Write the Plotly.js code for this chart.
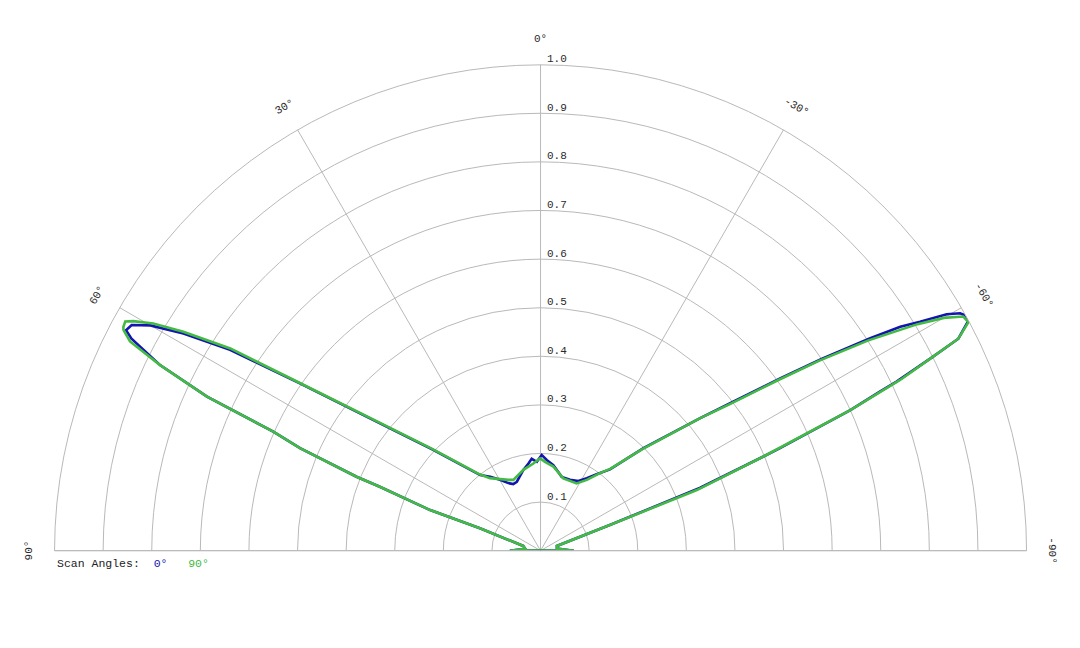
<!DOCTYPE html>
<html>
<head>
<meta charset="utf-8">
<script src="https://cdn.plot.ly/plotly-3.0.1.min.js"></script>
<style>
  html, body { margin: 0; padding: 0; background: #fff; }
  #chart { width: 1080px; height: 648px; }
</style>
</head>
<body>
<div id="chart"></div>
<script>
const W = 1080, H = 648;
const FONT = "Courier New, Liberation Mono, monospace";
const TEXT_COLOR = "#2a2a2a";
const GRID_COLOR = "#b9b9b9";

const scanNames = ["0°", "90°"];
const scanColors = ["#1414b0", "#43ba43"];

// scan angle 0°: path from -90° round the right lobe, over the top, round the left lobe to +90°
const theta0 = [-90, -83, -73.8, -69.7, -68.5, -67.1, -66.8, -65.6, -64.9, -64.6, -63.7, -63.1,
  -61.8, -61.1, -60.5, -59.8, -58.9, -58.1, -57.2, -55.7, -54.3, -52.3, -50.3, -45.1, -43.6,
  -40.5, -36.3, -32.5, -28.5, -22.6, -16.0, -8.5, -3.9, -0.7, 2.4, 5.5, 7.9, 12.0, 19.0, 22.3,
  25.5, 29.8, 34.3, 38.6, 46.8, 50.9, 55.2, 57.1, 58.7, 60.0, 61.1, 62.0, 62.6, 64.0,
  65.2, 66.0, 66.9, 68.1, 68.3, 69.8, 69.7, 74.7, 82.6, 90];
const r0 = [0.068, 0.034, 0.035, 0.152, 0.352, 0.498, 0.536, 0.700, 0.771, 0.810, 0.901, 0.964,
  0.998, 1.000, 0.992, 0.967, 0.912, 0.872, 0.807, 0.700, 0.607, 0.501, 0.427, 0.299, 0.267,
  0.220, 0.195, 0.177, 0.163, 0.158, 0.158, 0.178, 0.187, 0.197, 0.183, 0.190, 0.181, 0.170, 0.150, 0.148,
  0.154, 0.168, 0.184, 0.199, 0.303, 0.399, 0.603, 0.761, 0.860, 0.927, 0.961, 0.966, 0.948, 0.871,
  0.756, 0.602, 0.538, 0.408, 0.356, 0.242, 0.133, 0.037, 0.032, 0.063];

// scan angle 90°
const theta90 = [-90, -83, -73.8, -69.7, -68.8, -67.1, -65.6, -64.6, -63.7, -63.1, -61.9, -61.0,
  -60.0, -59.0, -57.3, -55.7, -54.3, -52.3, -50.3, -45.1, -43.6, -40.5, -37.5, -33.2, -28.2,
  -17.5, -8.7, -2.9, 0.3, 4.7, 12.0, 21.0, 24.5, 34.9, 38.6, 46.8, 50.9, 55.2, 56.9, 58.5,
  59.6, 60.6, 61.1, 61.8, 62.1, 63.0, 64.0, 65.2, 66.0, 66.9, 68.1, 68.3, 69.8, 69.7,
  74.7, 82.6, 90];
const r90 = [0.068, 0.034, 0.035, 0.152, 0.345, 0.498, 0.700, 0.819, 0.901, 0.964, 0.998, 0.994,
  0.958, 0.905, 0.800, 0.693, 0.600, 0.495, 0.427, 0.296, 0.267, 0.222, 0.201, 0.174, 0.157,
  0.156, 0.175, 0.183, 0.190, 0.180, 0.170, 0.156, 0.160, 0.182, 0.201, 0.306, 0.403, 0.608, 0.762, 0.862,
  0.924, 0.962, 0.976, 0.974, 0.971, 0.948, 0.871, 0.756, 0.602, 0.538, 0.408, 0.356, 0.242, 0.133,
  0.037, 0.032, 0.063];

const radialTicks = [0.1, 0.2, 0.3, 0.4, 0.5, 0.6, 0.7, 0.8, 0.9, 1.0];
const angularTicks = [-90, -60, -30, 0, 30, 60, 90];

// half-disc: 2R wide, R high
const domainX = [0.0505, 0.9505];
const domainY = [0.1502, 0.9002];
const cx = W * (domainX[0] + domainX[1]) / 2;
const cy = H * (1 - domainY[0]);
const R = W * (domainX[1] - domainX[0]) / 2;

function lobe(theta, r, i) {
  return {
    type: "scatterpolar",
    mode: "lines",
    theta: theta.concat(theta[0]),   // closed back across the base
    r: r.concat(r[0]),
    name: scanNames[i],
    line: { color: scanColors[i], width: 2.6 },
    cliponaxis: false,
    hoverinfo: "skip"
  };
}

function label(x, y, text, extra) {
  return Object.assign({
    xref: "paper", yref: "paper",
    x: x / W, y: 1 - y / H,
    text: text,
    showarrow: false,
    font: { family: FONT, size: 11, color: TEXT_COLOR }
  }, extra);
}

// angular labels sit just outside the rim, turned along it
function angleLabels() {
  return angularTicks.map(a => {
    const rad = a * Math.PI / 180;
    return label(cx - 1.053 * R * Math.sin(rad), cy - 1.053 * R * Math.cos(rad), a + "°",
      { xanchor: "center", yanchor: "middle", textangle: -a });
  });
}

// radial labels to the right of the 0° spoke, resting on each ring
function radiusLabels() {
  return radialTicks.map(v => label(cx + 4, cy - v * R - 5.5, v.toFixed(1),
    { xanchor: "left", yanchor: "middle" }));
}

const legendNote = label(55, 563,
  "Scan Angles:\u00a0\u00a0" +
  `<span style="color:${scanColors[0]}">${scanNames[0]}</span>\u00a0\u00a0\u00a0` +
  `<span style="color:${scanColors[1]}">${scanNames[1]}</span>`,
  { xanchor: "left", yanchor: "middle", font: { family: FONT, size: 11.5, color: "#222222" } });

const layout = {
  width: W, height: H,
  margin: { l: 0, r: 0, t: 0, b: 0 },
  paper_bgcolor: "#ffffff",
  showlegend: false,
  font: { family: FONT, size: 11, color: TEXT_COLOR },
  polar: {
    domain: { x: domainX, y: domainY },
    sector: [0, 180],
    bgcolor: "#ffffff",
    radialaxis: {
      range: [0, 1],
      angle: 90,
      tickvals: radialTicks,
      showticklabels: false,
      ticks: "",
      showline: false,
      gridcolor: GRID_COLOR,
      gridwidth: 1
    },
    angularaxis: {
      rotation: 90,
      direction: "counterclockwise",
      tickvals: angularTicks,
      showticklabels: false,
      ticks: "",
      gridcolor: GRID_COLOR,
      linecolor: GRID_COLOR,
      linewidth: 1
    }
  },
  annotations: angleLabels().concat(radiusLabels(), [legendNote])
};

Plotly.newPlot("chart", [lobe(theta0, r0, 0), lobe(theta90, r90, 1)], layout,
  { displayModeBar: false, staticPlot: true });
</script>
</body>
</html>
